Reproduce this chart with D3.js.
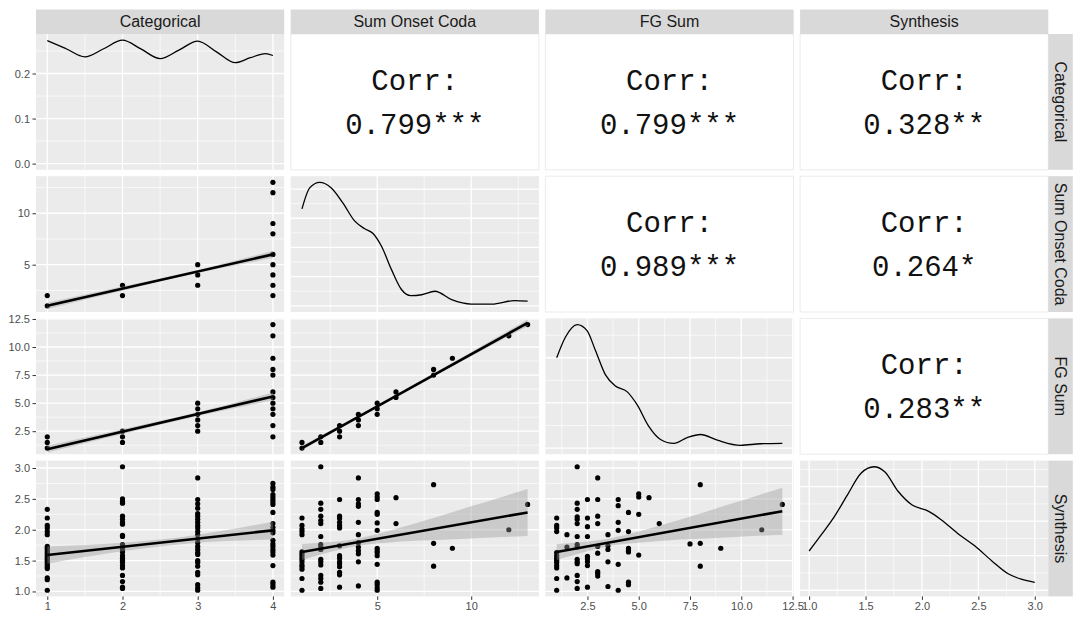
<!DOCTYPE html>
<html>
<head>
<meta charset="utf-8">
<script src="https://cdn.jsdelivr.net/npm/d3@7"></script>
<style>
  body { margin: 0; background: #fff; }
  text { font-family: "Liberation Sans", Arial, Helvetica, sans-serif; }
</style>
</head>
<body>
<svg id="chart" width="1084" height="618"></svg>
<script>
// ---- data ----
const varNames = ["Categorical", "Sum Onset Coda", "FG Sum", "Synthesis"];

// major breaks per variable and their label formats
const catTicks = [1, 2, 3, 4];
const socTicks = [5, 10];
const fgTicks = [2.5, 5, 7.5, 10, 12.5];
const synTicks = [1, 1.5, 2, 2.5, 3];
const tickFormats = ["d", "d", ".1f", ".1f"];
const catDensTicks = [0, 0.1, 0.2];
const densGridStep = [0.1, 0.05, 0.1, 0.25];

// scatter points, grouped as [x, [y values]]
const socByCat = [[1, [1, 2]], [2, [2, 3]], [3, [3, 4, 5]], [4, [2, 3, 4, 5, 6, 8, 9, 12, 13]]];
const fgByCat = [[1, [1, 1.5, 2]], [2, [1.5, 2, 2.5]], [3, [2.5, 3, 3.5, 4, 4.5, 5]],
  [4, [2, 3, 4, 4.5, 5, 5.5, 6, 7.5, 8, 9, 11, 12]]];
const synByCat = [
  [1, [2.33, 2.19, 2.07, 2.03, 1.97, 1.92, 1.73, 1.70, 1.67, 1.64, 1.61, 1.58, 1.55, 1.52, 1.49, 1.46, 1.43, 1.40, 1.37, 1.22, 1.19, 1.02]],
  [2, [3.02, 2.50, 2.46, 2.43, 2.22, 2.17, 2.12, 2.09, 1.91, 1.89, 1.76, 1.72, 1.68, 1.64, 1.58, 1.54, 1.50, 1.47, 1.42, 1.38, 1.26, 1.16, 1.07, 1.05]],
  [3, [2.84, 2.49, 2.42, 2.35, 2.26, 2.22, 2.17, 2.12, 2.07, 2.03, 1.97, 1.92, 1.85, 1.79, 1.73, 1.68, 1.63, 1.60, 1.50, 1.47, 1.41, 1.31, 1.27, 1.11, 1.06, 1.02]],
  [4, [2.75, 2.69, 2.65, 2.57, 2.53, 2.49, 2.45, 2.41, 2.28, 2.10, 2.04, 1.99, 1.95, 1.83, 1.77, 1.73, 1.68, 1.64, 1.59, 1.42, 1.15, 1.11, 1.07]]
];
const fgBySoc = [[1, [1, 1.5]], [2, [1.5, 2]], [3, [2, 2.5, 3]], [4, [3, 3.5, 4]], [5, [4, 4.5, 5]],
  [6, [5.5, 6]], [8, [7.5, 8]], [9, [9]], [12, [11]], [13, [12]]];
const synBySoc = [
  [1, [2.19, 2.07, 2.01, 1.97, 1.92, 1.64, 1.60, 1.56, 1.52, 1.48, 1.43, 1.40, 1.36, 1.21, 1.02]],
  [2, [3.02, 2.43, 2.33, 2.22, 2.15, 2.10, 1.89, 1.76, 1.72, 1.68, 1.52, 1.48, 1.43, 1.26, 1.21, 1.15, 1.05]],
  [3, [2.49, 2.22, 2.18, 2.12, 2.07, 2.03, 1.74, 1.58, 1.54, 1.48, 1.45, 1.40, 1.31, 1.27, 1.07]],
  [4, [2.84, 2.49, 2.42, 2.38, 2.12, 1.92, 1.79, 1.72, 1.66, 1.61, 1.48, 1.09]],
  [5, [2.58, 2.53, 2.49, 2.28, 2.25, 2.11, 1.99, 1.70, 1.66, 1.63, 1.58, 1.44, 1.15, 1.11, 1.06, 1.02]],
  [6, [2.52, 2.10]], [8, [2.73, 1.78, 1.41]], [9, [1.70]], [12, [2.00]], [13, [2.41]]
];
const synByFg = [
  [1, [2.19, 2.07, 2.03, 1.97, 1.63, 1.58, 1.54, 1.50, 1.47, 1.42, 1.38, 1.21, 1.02]],
  [1.5, [1.92, 1.72, 1.22]],
  [2, [3.02, 2.43, 2.33, 2.21, 2.17, 2.10, 1.89, 1.76, 1.72, 1.52, 1.48, 1.45, 1.26, 1.16, 1.05]],
  [2.5, [2.49, 2.19, 2.05, 1.89, 1.57, 1.53, 1.48, 1.42, 1.07]],
  [3, [2.84, 2.49, 2.22, 2.10, 1.73, 1.62, 1.32, 1.29, 1.25]],
  [3.5, [1.92, 1.74, 1.68, 1.48, 1.08]],
  [4, [2.49, 2.39, 2.12, 1.99, 1.44, 1.02]],
  [4.5, [2.28, 1.97, 1.70, 1.66, 1.64, 1.15, 1.11]],
  [5, [2.58, 2.53, 2.25, 1.59]],
  [5.5, [2.52]], [6, [2.10]], [7.5, [1.77]], [8, [2.73, 1.78, 1.41]], [9, [1.70]], [11, [2.00]], [12, [2.41]]
];

// fitted lines [[x0, y0], [x1, y1]] and confidence bands [x, lo, hi]
const fitSocCat = [[1, 1.0], [4, 6.0]];
const bandSocCat = [[1, 0.7, 1.3], [2, 2.47, 2.87], [3, 4.18, 4.48], [4, 5.65, 6.35]];
const fitFgCat = [[1, 0.9], [4, 5.6]];
const bandFgCat = [[1, 0.6, 1.2], [2, 2.25, 2.68], [3, 3.85, 4.18], [4, 5.25, 5.95]];
const fitSynCat = [[1, 1.59], [4, 1.99]];
const bandSynCat = [[1, 1.45, 1.73], [2, 1.65, 1.79], [2.5, 1.73, 1.84], [3, 1.79, 1.92], [4, 1.84, 2.13]];
const fitFgSoc = [[1, 1.0], [13, 12.15]];
const bandFgSoc = [[1, 0.8, 1.2], [5, 4.62, 4.82], [9, 8.3, 8.6], [13, 11.85, 12.45]];
const fitSynSoc = [[1, 1.64], [13, 2.28]];
const bandSynSoc = [[1, 1.51, 1.77], [2.5, 1.64, 1.80], [4, 1.74, 1.86], [5.5, 1.79, 1.97],
  [7, 1.82, 2.10], [10, 1.86, 2.38], [13, 1.90, 2.66]];
const fitSynFg = [[1, 1.64], [12, 2.30]];
const bandSynFg = [[1, 1.51, 1.77], [2.5, 1.65, 1.81], [3.6, 1.74, 1.86], [5, 1.79, 1.97],
  [7, 1.84, 2.16], [9.5, 1.88, 2.42], [12, 1.92, 2.68]];

// diagonal densities [x, density]
const densCat = [[1, 0.273], [1.25, 0.255], [1.5, 0.237], [1.75, 0.255], [2, 0.274], [2.25, 0.254],
  [2.5, 0.233], [2.75, 0.252], [3, 0.272], [3.25, 0.248], [3.5, 0.224], [3.7, 0.235], [3.9, 0.244], [4, 0.240]];
const densSoc = [[1, 0.166], [1.41, 0.202], [1.94, 0.2115], [2.56, 0.202], [3.18, 0.176], [3.81, 0.145],
  [4.34, 0.132], [4.78, 0.124], [5.23, 0.102], [5.76, 0.062], [6.29, 0.028], [6.79, 0.0175], [7.36, 0.019],
  [8.07, 0.025], [8.96, 0.0106], [10.0, 0.003], [11.1, 0.003], [12.3, 0.009], [13, 0.008]];
const densFg = [[1, 0.200], [1.43, 0.246], [2.0, 0.2735], [2.48, 0.260], [2.89, 0.216], [3.38, 0.162],
  [3.86, 0.1375], [4.43, 0.125], [4.92, 0.096], [5.49, 0.048], [6.06, 0.019], [6.71, 0.0103], [7.36, 0.023],
  [8.01, 0.030], [8.83, 0.0175], [9.96, 0.006], [10.94, 0.0095], [12, 0.0103]];
const densSyn = [[1.0, 0.284], [1.11, 0.404], [1.225, 0.535], [1.34, 0.691], [1.46, 0.847], [1.575, 0.894],
  [1.67, 0.858], [1.79, 0.715], [1.91, 0.619], [2.06, 0.571], [2.17, 0.511], [2.32, 0.409], [2.47, 0.320],
  [2.62, 0.212], [2.76, 0.121], [2.88, 0.080], [3.0, 0.057]];

// correlations in the upper panels: [row, col, label]
const corrLabels = [[0, 1, "0.799***"], [0, 2, "0.799***"], [0, 3, "0.328**"],
  [1, 2, "0.989***"], [1, 3, "0.264*"], [2, 3, "0.283**"]];

// ---- layout ----
const svg = d3.select("#chart");
const L = 36, T = 34, PW = 248.2, PH = 135.8, GX = 6.5, GY = 6.4, STRIP = 24.5;
const colX = k => L + k * (PW + GX);
const rowY = k => T + k * (PH + GY);

const pad = e => { const r = e[1] - e[0]; return [e[0] - 0.05 * r, e[1] + 0.05 * r]; };
const flat = g => g.flatMap(d => d[1].map(v => [d[0], v]));

const extents = [
    d3.extent(socByCat, d => d[0]),
    d3.extent(socByCat.flatMap(d => d[1])),
    d3.extent(fgByCat.flatMap(d => d[1])),
    d3.extent(synByCat.flatMap(d => d[1]))
];
const ticks = [catTicks, socTicks, fgTicks, synTicks];

const xS = varNames.map((v, k) => d3.scaleLinear().domain(pad(extents[k])).range([colX(k), colX(k) + PW]));
const yS = varNames.map((v, k) => d3.scaleLinear().domain(pad(extents[k])).range([rowY(k) + PH, rowY(k)]));

function minorsOf(major, domain) {
    const step = major[1] - major[0];
    const ext = [major[0] - step, ...major, major[major.length - 1] + step];
    const out = [];
    for (let i = 0; i < ext.length - 1; i++) out.push((ext[i] + ext[i + 1]) / 2);
    return out.filter(v => v > domain[0] && v < domain[1]);
}

const dens = [densCat, densSoc, densFg, densSyn];
const yD = dens.map((d, k) => d3.scaleLinear()
    .domain(pad([0, d3.max(d, p => p[1])]))
    .range([rowY(k) + PH, rowY(k)]));

function densBreaks(k) {
    const step = densGridStep[k] / 2, top = yD[k].domain()[1];
    const out = [];
    for (let i = 0; i * step <= top; i++) out.push({ v: i * step, major: i % 2 === 0 });
    return out;
}

const defs = svg.append("defs");

function panel(row, col, filled) {
    const g = svg.append("g");
    defs.append("clipPath").attr("id", `clip${row}${col}`)
        .append("rect").attr("x", colX(col)).attr("y", rowY(row)).attr("width", PW).attr("height", PH);
    g.append("rect")
        .attr("x", colX(col)).attr("y", rowY(row))
        .attr("width", PW).attr("height", PH)
        .attr("fill", filled ? "#ebebeb" : "#fff")
        .attr("stroke", filled ? "none" : "#ebebeb")
        .attr("stroke-width", 1);
    return g;
}

function gridLines(g, col, row, hLines) {
    const x = xS[col];
    const vMinor = minorsOf(ticks[col], x.domain());
    const lines = [];
    vMinor.forEach(v => lines.push({ x1: x(v), x2: x(v), y1: rowY(row), y2: rowY(row) + PH, w: 0.65 }));
    hLines.filter(h => !h.major).forEach(h => lines.push({ x1: colX(col), x2: colX(col) + PW, y1: h.y, y2: h.y, w: 0.65 }));
    ticks[col].forEach(v => lines.push({ x1: x(v), x2: x(v), y1: rowY(row), y2: rowY(row) + PH, w: 1.3 }));
    hLines.filter(h => h.major).forEach(h => lines.push({ x1: colX(col), x2: colX(col) + PW, y1: h.y, y2: h.y, w: 1.3 }));
    g.selectAll(null).data(lines).join("line")
        .attr("x1", d => d.x1).attr("x2", d => d.x2)
        .attr("y1", d => d.y1).attr("y2", d => d.y2)
        .attr("stroke", "#fff").attr("stroke-width", d => d.w);
}

// ---- lower triangle: scatter + smooth ----
const lower = [
    [1, 0, socByCat, fitSocCat, bandSocCat],
    [2, 0, fgByCat, fitFgCat, bandFgCat],
    [3, 0, synByCat, fitSynCat, bandSynCat],
    [2, 1, fgBySoc, fitFgSoc, bandFgSoc],
    [3, 1, synBySoc, fitSynSoc, bandSynSoc],
    [3, 2, synByFg, fitSynFg, bandSynFg]
];

lower.forEach(([row, col, pts, fit, band]) => {
    const g = panel(row, col, true);
    const x = xS[col], y = yS[row];
    const hl = minorsOf(ticks[row], y.domain()).map(v => ({ y: y(v), major: false }))
        .concat(ticks[row].map(v => ({ y: y(v), major: true })));
    gridLines(g, col, row, hl);

    const inner = g.append("g").attr("clip-path", `url(#clip${row}${col})`);
    inner.selectAll("circle").data(flat(pts)).join("circle")
        .attr("cx", d => x(d[0])).attr("cy", d => y(d[1]))
        .attr("r", 2.6).attr("fill", "#000");

    inner.append("path").datum(band)
        .attr("fill", "#999999").attr("fill-opacity", 0.4)
        .attr("d", d3.area().curve(d3.curveMonotoneX)
            .x(d => x(d[0])).y0(d => y(d[1])).y1(d => y(d[2])));

    inner.append("path").datum(fit)
        .attr("fill", "none").attr("stroke", "#000").attr("stroke-width", 2.6)
        .attr("d", d3.line().x(d => x(d[0])).y(d => y(d[1])));
});

// ---- diagonal: densities ----
dens.forEach((d, k) => {
    const g = panel(k, k, true);
    const hl = densBreaks(k).map(b => ({ y: yD[k](b.v), major: b.major }));
    gridLines(g, k, k, hl);
    g.append("path").datum(d)
        .attr("fill", "none").attr("stroke", "#000").attr("stroke-width", 1.3)
        .attr("d", d3.line().curve(d3.curveMonotoneX)
            .x(p => xS[k](p[0])).y(p => yD[k](p[1])));
});

// ---- upper triangle: correlations ----
corrLabels.forEach(([row, col, label]) => {
    const g = panel(row, col, false);
    const cx = colX(col) + PW / 2;
    [["Corr:", 56], [label, 99.5]].forEach(([t, dy]) => {
        g.append("text")
            .attr("x", cx).attr("y", rowY(row) + dy)
            .attr("text-anchor", "middle")
            .style("font-family", "'Liberation Mono', 'Courier New', monospace")
            .style("font-size", "29px")
            .attr("fill", "#111")
            .text(t);
    });
});

// ---- strips ----
varNames.forEach((name, k) => {
    svg.append("rect")
        .attr("x", colX(k)).attr("y", T - STRIP)
        .attr("width", PW).attr("height", STRIP)
        .attr("fill", "#d9d9d9");
    svg.append("text")
        .attr("x", colX(k) + PW / 2).attr("y", T - STRIP / 2)
        .attr("text-anchor", "middle").attr("dominant-baseline", "central")
        .style("font-size", "16px").attr("fill", "#1a1a1a")
        .text(name);

    const sx = colX(3) + PW;
    svg.append("rect")
        .attr("x", sx).attr("y", rowY(k))
        .attr("width", STRIP).attr("height", PH)
        .attr("fill", "#d9d9d9");
    svg.append("text")
        .attr("transform", `translate(${sx + STRIP / 2},${rowY(k) + PH / 2}) rotate(90)`)
        .attr("text-anchor", "middle").attr("dominant-baseline", "central")
        .style("font-size", "16px").attr("fill", "#1a1a1a")
        .text(name);
});

// ---- axes ----
function styleAxis(sel) {
    sel.select(".domain").remove();
    sel.selectAll(".tick line").attr("stroke", "#333").attr("stroke-width", 1);
    sel.selectAll(".tick text")
        .attr("fill", "#4d4d4d")
        .style("font-size", "11px")
        .style("font-family", "'Liberation Sans', Arial, sans-serif");
}

varNames.forEach((name, k) => {
    const yScale = k === 0 ? yD[0] : yS[k];
    const yTicks = k === 0 ? catDensTicks : ticks[k];
    const fmt = k === 0 ? d3.format(".1f") : d3.format(tickFormats[k]);
    svg.append("g")
        .attr("transform", `translate(${L},0)`)
        .call(d3.axisLeft(yScale).tickValues(yTicks).tickFormat(fmt).tickSize(3.5).tickPadding(2.5))
        .call(styleAxis);

    svg.append("g")
        .attr("transform", `translate(0,${rowY(3) + PH})`)
        .call(d3.axisBottom(xS[k]).tickValues(ticks[k]).tickFormat(d3.format(tickFormats[k])).tickSize(3.5).tickPadding(2))
        .call(styleAxis);
});
</script>
</body>
</html>
